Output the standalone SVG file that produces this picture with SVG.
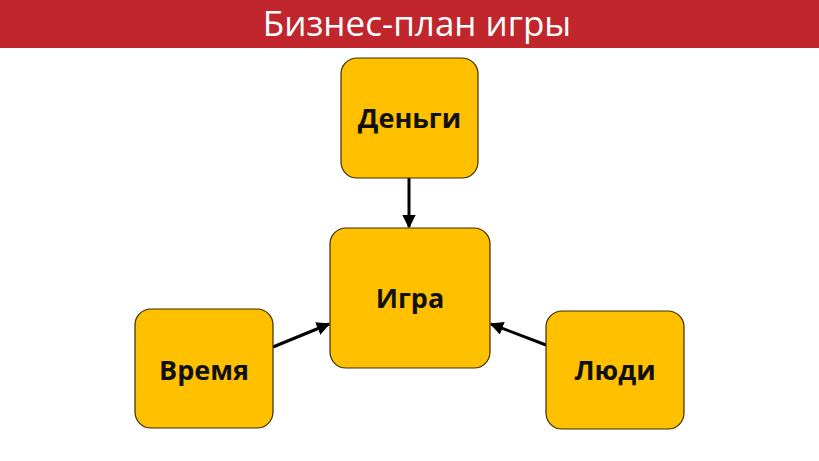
<svg xmlns="http://www.w3.org/2000/svg" width="819" height="461" viewBox="0 0 819 461">
<defs>
<style>
.box{fill:#FFC000;stroke:#3a2e00;stroke-width:1.2}
.lbl{font-family:"Open Sans","Liberation Sans",sans-serif;font-weight:700;font-size:27px;fill:#111;text-anchor:middle}
.con{stroke:#000;stroke-width:3;fill:none;marker-end:url(#ah)}
</style>
<marker id="ah" viewBox="0 0 10 10" refX="9" refY="5" markerWidth="4.5" markerHeight="4.5" orient="auto" markerUnits="strokeWidth">
<path d="M0,0 L10,5 L0,10 z" fill="#000"/>
</marker>
</defs>
<rect width="819" height="461" fill="#fff"/>
<g id="header">
<rect x="0" y="0" width="819" height="48" fill="#C0262C"/>
<text x="417" y="36" font-family="'Open Sans','Liberation Sans',sans-serif" font-size="35" fill="#fff" text-anchor="middle">Бизнес-план игры</text>
</g>
<g id="connectors">
<line class="con" x1="409" y1="178" x2="409" y2="227"/>
<line class="con" x1="273" y1="347" x2="329" y2="324"/>
<line class="con" x1="546" y1="345" x2="491" y2="324"/>
</g>
<g id="dengi">
<rect class="box" x="341" y="58" width="137" height="120" rx="16"/>
<text class="lbl" x="409.5" y="128">Деньги</text>
</g>
<g id="igra">
<rect class="box" x="330" y="228" width="160" height="140" rx="16"/>
<text class="lbl" x="410" y="308">Игра</text>
</g>
<g id="vremya">
<rect class="box" x="135" y="309" width="138" height="119" rx="16"/>
<text class="lbl" x="204" y="380">Время</text>
</g>
<g id="lyudi">
<rect class="box" x="546" y="311" width="138" height="118" rx="16"/>
<text class="lbl" x="615" y="380">Люди</text>
</g>
</svg>
